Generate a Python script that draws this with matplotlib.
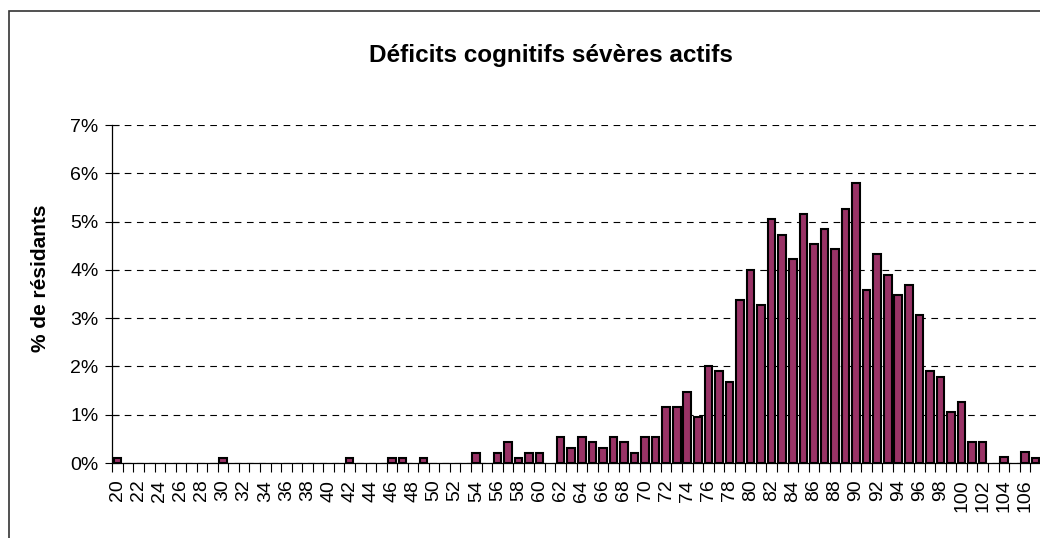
import matplotlib
matplotlib.use("Agg")
import matplotlib.pyplot as plt
from matplotlib.patches import Rectangle
import numpy as np

plt.rcParams['font.family'] = ['Liberation Sans', 'DejaVu Sans']

ages = list(range(20, 108))
values = [
    0.1, 0, 0, 0, 0, 0, 0, 0, 0, 0,          # 20-29
    0.1, 0, 0, 0, 0, 0, 0, 0, 0, 0,          # 30-39
    0, 0, 0.1, 0, 0, 0, 0.1, 0.1, 0, 0.1,    # 40-49
    0, 0, 0, 0, 0.21, 0, 0.21, 0.43, 0.1, 0.21,   # 50-59
    0.21, 0, 0.53, 0.32, 0.53, 0.43, 0.32, 0.53, 0.43, 0.21,  # 60-69
    0.53, 0.53, 1.16, 1.16, 1.47, 0.95, 2.0, 1.9, 1.68, 3.37,  # 70-79
    4.0, 3.27, 5.06, 4.73, 4.22, 5.16, 4.53, 4.84, 4.43, 5.26,  # 80-89
    5.79, 3.59, 4.32, 3.9, 3.48, 3.69, 3.06, 1.9, 1.79, 1.05,  # 90-99
    1.26, 0.43, 0.43, 0, 0.12, 0, 0.22, 0.1,  # 100-107
]
title = "Déficits cognitifs sévères actifs"
ylabel = "% de résidants"
yticks = [0, 1, 2, 3, 4, 5, 6, 7]
ytick_labels = ["0%", "1%", "2%", "3%", "4%", "5%", "6%", "7%"]

W, H = 1040, 538
fig = plt.figure(figsize=(W / 100, H / 100), dpi=100)

# outer chart border
fig.patches.append(Rectangle((8.5 / W, -0.05), 1.2, 1 - 10.5 / H + 0.05,
                             transform=fig.transFigure, fill=False,
                             edgecolor='#333333', linewidth=1.2))

left, right = 112.3, 1040.7
bottom, top = 463, 125
ax = fig.add_axes([left / W, 1 - bottom / H, (right - left) / W, (bottom - top) / H])

x = np.arange(len(ages))
vals = np.array(values, dtype=float)
nz = vals > 0
ax.bar(x[nz], vals[nz], width=0.72, color='#993366', edgecolor='black', linewidth=1.5, zorder=3)

ax.set_xlim(-0.5, len(ages) - 0.5)
ax.set_ylim(0, 7)

ax.set_yticks(yticks)
ax.set_yticklabels(ytick_labels, fontsize=14)
ax.yaxis.grid(True, linestyle=(0, (6, 5)), color='black', linewidth=0.8, zorder=0)
ax.tick_params(axis='y', direction='inout', length=10, width=0.8, pad=5)

# category boundary ticks
ax.set_xticks(np.arange(len(ages) + 1) - 0.5)
ax.set_xticklabels([])
ax.tick_params(axis='x', which='major', direction='out', length=6.5, width=0.8)
# labels every 2nd category
lab_idx = [i for i, a in enumerate(ages) if a % 2 == 0]
ax.set_xticks(lab_idx, minor=True)
ax.set_xticklabels([str(ages[i]) for i in lab_idx], minor=True, rotation=90, fontsize=14)
ax.tick_params(axis='x', which='minor', length=0, pad=12)

for s in ['top', 'right']:
    ax.spines[s].set_visible(False)
ax.spines['left'].set_linewidth(0.9)
ax.spines['bottom'].set_linewidth(0.9)

fig.text(551 / W, 1 - 61.7 / H, title, ha='center', va='baseline', fontsize=17.5, fontweight='bold')
fig.text(41 / W, 1 - 278 / H, ylabel, ha='center', va='center', rotation=90,
         fontsize=15, fontweight='bold')

fig.savefig("out.png", dpi=100)
